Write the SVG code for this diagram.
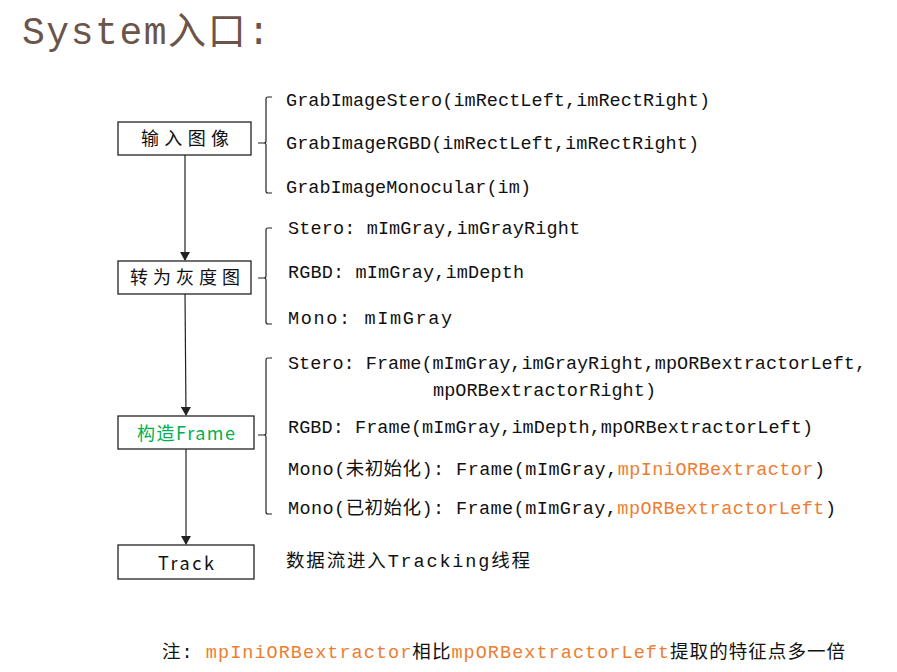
<svg xmlns="http://www.w3.org/2000/svg" width="897" height="672" viewBox="0 0 897 672">
<style>
.t{font-family:"Liberation Mono","Noto Sans CJK SC",monospace;font-size:18.5px;fill:#111}
.b{fill:#fff;stroke:#222;stroke-width:1.3}
.n{font-family:"Noto Sans CJK SC",sans-serif;font-size:18px;text-anchor:middle;fill:#111}
.br{fill:none;stroke:#222;stroke-width:1.2}
.o{fill:#ed7d31}
.c{stroke:#222;stroke-width:1.2;fill:none;marker-end:url(#a)}
</style>
<defs><marker id="a" markerWidth="10" markerHeight="10" refX="8" refY="5" orient="auto" markerUnits="userSpaceOnUse"><path d="M0,0 L9,5 L0,10 z" fill="#222"/></marker></defs>
<rect width="897" height="672" fill="#fff"/>
<text x="22" y="44" font-family="Liberation Mono,'Noto Sans CJK SC',monospace" font-size="38" fill="#6b5449" textLength="248">System入口:</text>
<g id="connectors">
<line class="c" x1="185" y1="155" x2="185" y2="260"/>
<line class="c" x1="185" y1="294" x2="186" y2="415"/>
<line class="c" x1="186" y1="449" x2="186" y2="544"/>
<path class="br" d="M272,97 H268 Q266,97 266,99 V141 Q266,143 264,143 H258 M264,143 Q266,143 266,145 V191 Q266,193 268,193 H272"/>
<path class="br" d="M272,228 H268 Q266,228 266,230 V276 Q266,278 264,278 H258 M264,278 Q266,278 266,280 V322 Q266,324 268,324 H272"/>
<path class="br" d="M272,358 H268 Q266,358 266,360 V433 Q266,435 264,435 H258 M264,435 Q266,435 266,437 V512 Q266,514 268,514 H272"/>
</g>
<g id="n1"><rect class="b" x="118" y="122" width="133" height="33"/><text class="n" x="185" y="145" textLength="88" lengthAdjust="spacing">输入图像</text></g>
<g id="n2"><rect class="b" x="118" y="261" width="133" height="33"/><text class="n" x="185" y="284" textLength="110" lengthAdjust="spacing">转为灰度图</text></g>
<g id="n3"><rect class="b" x="118" y="416" width="136" height="33"/><text class="n" x="186" y="440" style="fill:#00b050" textLength="98" lengthAdjust="spacing">构造Frame</text></g>
<g id="n4"><rect class="b" x="118" y="545" width="136" height="34"/><text class="n" x="186" y="570" textLength="56" lengthAdjust="spacing">Track</text></g>
<g id="labels">
<text class="t" x="286" y="106" textLength="424">GrabImageStero(imRectLeft,imRectRight)</text>
<text class="t" x="286" y="149" textLength="413">GrabImageRGBD(imRectLeft,imRectRight)</text>
<text class="t" x="286" y="193" textLength="245">GrabImageMonocular(im)</text>
<text class="t" x="288" y="234" textLength="292">Stero: mImGray,imGrayRight</text>
<text class="t" x="288" y="278" textLength="236">RGBD: mImGray,imDepth</text>
<text class="t" x="288" y="324" textLength="164">Mono: mImGray</text>
<text class="t" x="288" y="369" textLength="578">Stero: Frame(mImGray,imGrayRight,mpORBextractorLeft,</text>
<text class="t" x="433" y="396" textLength="223">mpORBextractorRight)</text>
<text class="t" x="288" y="433" textLength="525">RGBD: Frame(mImGray,imDepth,mpORBextractorLeft)</text>
<text class="t" x="288" y="475" textLength="537">Mono(未初始化): Frame(mImGray,<tspan class="o">mpIniORBextractor</tspan>)</text>
<text class="t" x="288" y="514" textLength="548">Mono(已初始化): Frame(mImGray,<tspan class="o">mpORBextractorLeft</tspan>)</text>
<text class="t" x="286" y="567" textLength="244">数据流进入Tracking线程</text>
<text class="t" x="162" y="658" textLength="683">注: <tspan class="o">mpIniORBextractor</tspan>相比<tspan class="o">mpORBextractorLeft</tspan>提取的特征点多一倍</text>
</g>
</svg>
